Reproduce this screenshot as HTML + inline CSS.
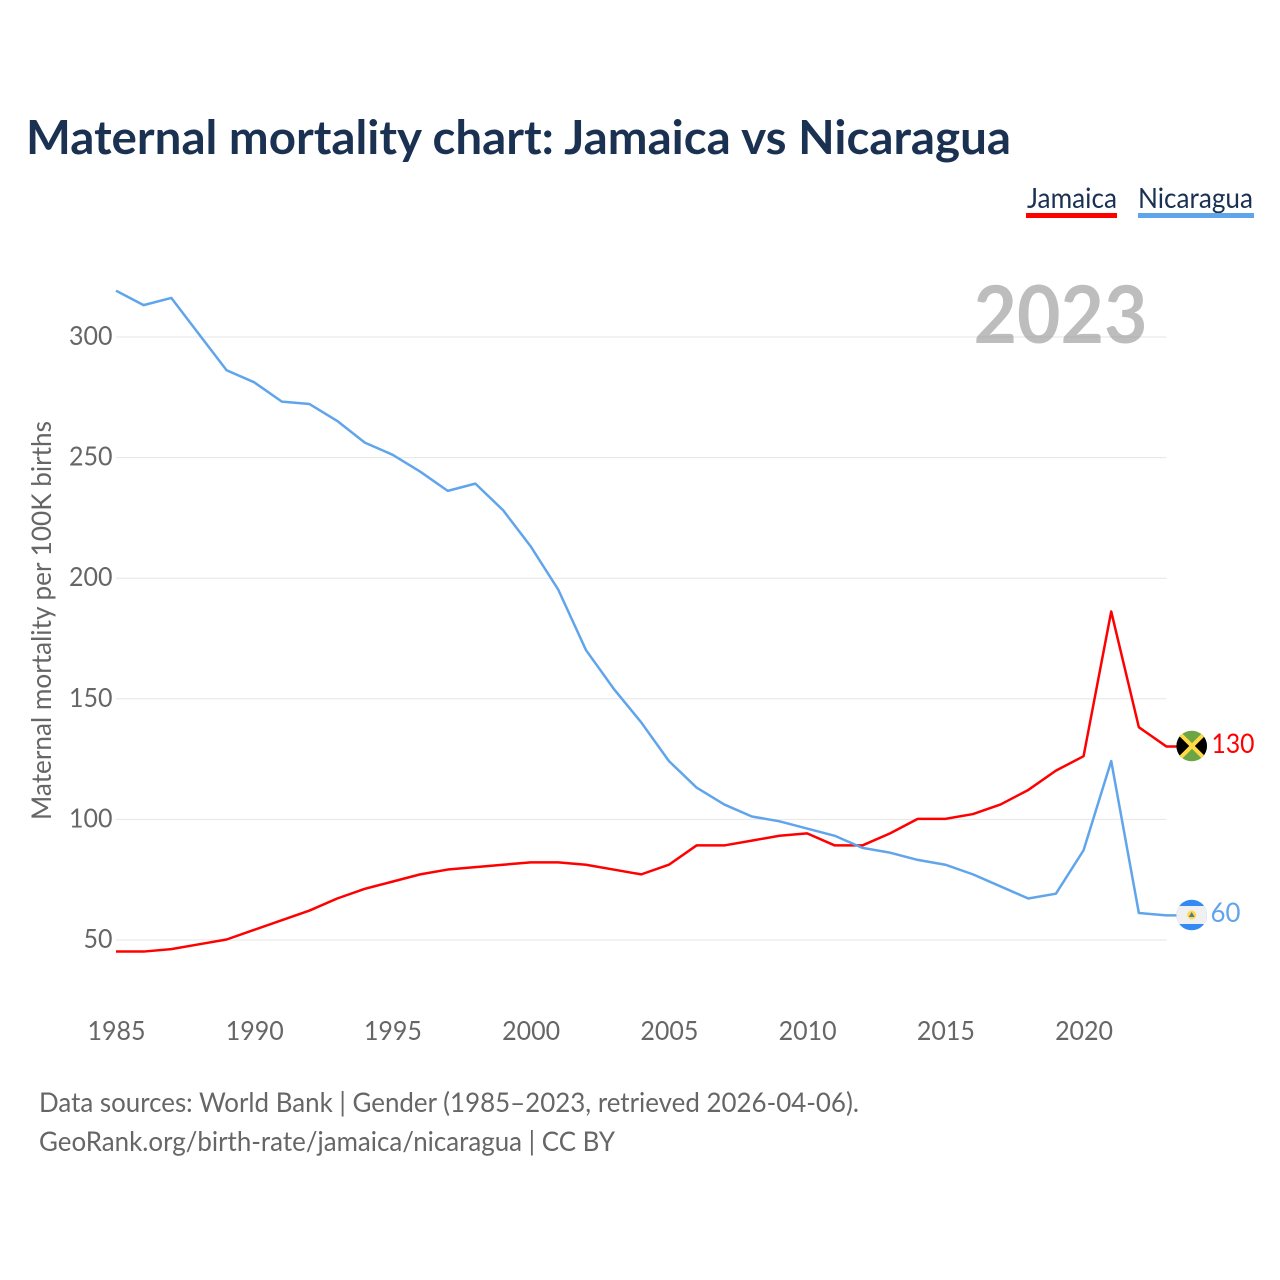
<!DOCTYPE html>
<html lang="en">
<head>
<meta charset="utf-8">
<title>Maternal mortality chart: Jamaica vs Nicaragua</title>
<style>
html,body{margin:0;padding:0;background:#fff;width:1280px;height:1280px;overflow:hidden}
svg{display:block}
text{font-family:"Lato","Carlito","Liberation Sans",sans-serif}
</style>
</head>
<body>
<svg id="chart" xmlns="http://www.w3.org/2000/svg" width="1280" height="1280" viewBox="0 0 1280 1280">
  <defs>
    <clipPath id="flag-clip-jm"><circle cx="1191.7" cy="746" r="15.3"/></clipPath>
    <clipPath id="flag-clip-ni"><circle cx="1191.7" cy="915" r="15.3"/></clipPath>
  </defs>
  <text x="26" y="154" font-size="47" font-weight="700" fill="#1a3152" textLength="985" lengthAdjust="spacingAndGlyphs">Maternal mortality chart: Jamaica vs Nicaragua</text>

  <g>
    <text x="1027" y="208" font-size="28" fill="#1a3152" textLength="90" lengthAdjust="spacingAndGlyphs">Jamaica</text>
    <rect x="1026" y="213" width="91" height="5" fill="#ff0000"/>
  </g>
  <g>
    <text x="1138" y="208" font-size="28" fill="#1a3152" textLength="115" lengthAdjust="spacingAndGlyphs">Nicaragua</text>
    <rect x="1138" y="213" width="116" height="5" fill="#60a5eb"/>
  </g>

  <g id="grid"></g>
  <g id="y-ticks"></g>
  <g id="x-ticks"></g>

  <text x="973.5" y="343" font-size="80" font-weight="700" fill="#999999" fill-opacity="0.65" textLength="174" lengthAdjust="spacingAndGlyphs">2023</text>

  <text transform="translate(51,820) rotate(-90)" x="0" y="0" font-size="27" fill="#666666" textLength="399" lengthAdjust="spacingAndGlyphs">Maternal mortality per 100K births</text>

  <g id="series"></g>

  <g clip-path="url(#flag-clip-jm)">
    <rect x="1176" y="730" width="32" height="32" fill="#6da544"/>
    <polygon points="1176,730 1191.7,746 1176,762" fill="#000000"/>
    <polygon points="1208,730 1191.7,746 1208,762" fill="#000000"/>
    <line x1="1178" y1="732" x2="1206" y2="760" stroke="#ffda44" stroke-width="4"/>
    <line x1="1206" y1="732" x2="1178" y2="760" stroke="#ffda44" stroke-width="4"/>
  </g>
  <g clip-path="url(#flag-clip-ni)">
    <rect x="1176" y="899" width="32" height="32" fill="#338af3"/>
    <rect x="1176" y="906" width="32" height="18" fill="#f0f0f0"/>
    <circle cx="1191.7" cy="915" r="4.5" fill="#ffda44"/>
    <polygon points="1191.7,912 1194.7,917 1188.7,917" fill="#4f7a9a"/>
  </g>

  <text id="label-jamaica" x="1211.5" y="753" font-size="27" fill="#ff0000" textLength="43" lengthAdjust="spacingAndGlyphs"></text>
  <text id="label-nicaragua" x="1210.5" y="922" font-size="27" fill="#60a5eb" textLength="30" lengthAdjust="spacingAndGlyphs"></text>

  <text x="39" y="1112" font-size="27" fill="#666666" textLength="820" lengthAdjust="spacingAndGlyphs">Data sources: World Bank | Gender (1985–2023, retrieved 2026-04-06).</text>
  <text x="39" y="1151" font-size="27" fill="#666666" textLength="576" lengthAdjust="spacingAndGlyphs">GeoRank.org/birth-rate/jamaica/nicaragua | CC BY</text>
</svg>
<script>
const years = [1985,1986,1987,1988,1989,1990,1991,1992,1993,1994,1995,1996,1997,1998,1999,2000,2001,2002,2003,2004,2005,2006,2007,2008,2009,2010,2011,2012,2013,2014,2015,2016,2017,2018,2019,2020,2021,2022,2023];
const jamaica = [45,45,46,48,50,54,58,62,67,71,74,77,79,80,81,82,82,81,79,77,81,89,89,91,93,94,89,89,94,100,100,102,106,112,120,126,186,138,130];
const nicaragua = [319,313,316,301,286,281,273,272,265,256,251,244,236,239,228,213,195,170,154,140,124,113,106,101,99,96,93,88,86,83,81,77,72,67,69,87,124,61,60];
const yTicks = [50,100,150,200,250,300];
const xTicks = [1985,1990,1995,2000,2005,2010,2015,2020];

const NS = 'http://www.w3.org/2000/svg';
const xScale = function (year) { return 116 + (year - 1985) * (1166.5 - 116) / (2023 - 1985); };
const yScale = function (value) { return 939.5 - (value - 50) * 603 / 250; };

const grid = document.getElementById('grid');
const yGroup = document.getElementById('y-ticks');
const xGroup = document.getElementById('x-ticks');
const seriesGroup = document.getElementById('series');

yTicks.forEach(function (t) {
  const line = document.createElementNS(NS, 'line');
  
  
  line.setAttribute('x1', xScale(1985));
  line.setAttribute('x2', xScale(2023));
  line.setAttribute('y1', yScale(t) + 0.5);
  line.setAttribute('y2', yScale(t) + 0.5);
  line.setAttribute('stroke', '#e6e6e6');
  line.setAttribute('stroke-width', '1');
  grid.appendChild(line);

  const label = document.createElementNS(NS, 'text');
  
  
  const s = String(t);
  const w = s.length * 14.5;
  label.setAttribute('x', 112.5 - w);
  label.setAttribute('y', yScale(t) + 8.5);
  label.setAttribute('font-size', '26');
  label.setAttribute('fill', '#666666');
  label.setAttribute('textLength', w);
  label.setAttribute('lengthAdjust', 'spacingAndGlyphs');
  label.textContent = s;
  yGroup.appendChild(label);
});

xTicks.forEach(function (t) {
  const label = document.createElementNS(NS, 'text');
  
  
  const s = String(t);
  const w = s.length * 14.5;
  label.setAttribute('x', xScale(t) - w / 2 + 0.5);
  label.setAttribute('y', 1040);
  label.setAttribute('font-size', '26');
  label.setAttribute('fill', '#666666');
  label.setAttribute('textLength', w);
  label.setAttribute('lengthAdjust', 'spacingAndGlyphs');
  label.textContent = s;
  xGroup.appendChild(label);
});

function drawSeries(values, color, name) {
  const path = document.createElementNS(NS, 'polyline');
  
  
  const pts = values.map(function (v, i) { return xScale(years[i]).toFixed(2) + ',' + yScale(v).toFixed(2); });
  const last = values[values.length - 1];
  pts.push((xScale(years[years.length - 1]) + 10).toFixed(2) + ',' + yScale(last).toFixed(2));
  path.setAttribute('points', pts.join(' '));
  path.setAttribute('fill', 'none');
  path.setAttribute('stroke', color);
  path.setAttribute('stroke-width', '2.5');
  path.setAttribute('stroke-linejoin', 'round');
  seriesGroup.appendChild(path);
}
drawSeries(jamaica, '#ff0000', 'line-jamaica');
drawSeries(nicaragua, '#60a5eb', 'line-nicaragua');

document.getElementById('label-jamaica').textContent = jamaica[jamaica.length - 1];
document.getElementById('label-nicaragua').textContent = nicaragua[nicaragua.length - 1];
</script>
</body>
</html>
